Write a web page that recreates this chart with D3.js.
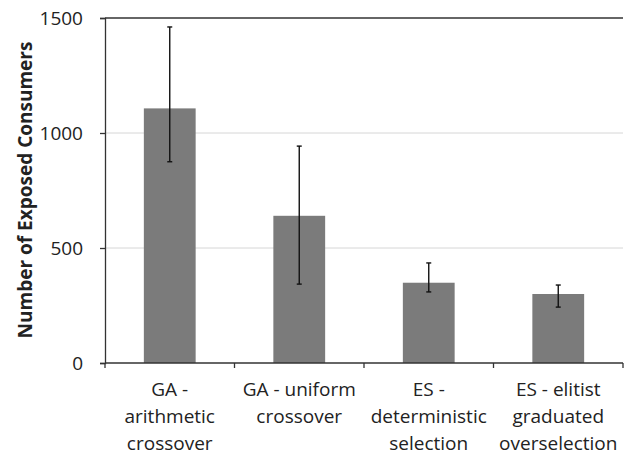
<!DOCTYPE html>
<html><head><meta charset="utf-8">
<script src="https://cdn.jsdelivr.net/npm/d3@7"></script>
<style>body{margin:0;background:#fff}svg{display:block}</style>
</head><body>
<svg id="c" width="624" height="456"></svg>
<script>
const categories = [
  ["GA -", "arithmetic", "crossover"],
  ["GA - uniform", "crossover"],
  ["ES -", "deterministic", "selection"],
  ["ES - elitist", "graduated", "overselection"]
];
const means = [1107, 640, 349, 300];
const errLow = [875, 343, 309, 243];
const errHigh = [1461, 943, 435, 339];
const yTicks = [0, 500, 1000, 1500];
const yTitle = "Number of Exposed Consumers";

(function () {
const svg = d3.select("#c");
const mLeft = 105, mRight = 623, mTop = 18, mBottom = 363;
const font = "'Open Sans', sans-serif";

const x = d3.scaleBand().domain(d3.range(categories.length)).range([mLeft, mRight]).paddingInner(0.6).paddingOuter(0.3);
const y = d3.scaleLinear().domain([0, 1500]).range([mBottom, mTop]);

// gridlines
svg.append("g").selectAll("line").data(yTicks.filter(t => t > 0 && t < 1500)).join("line")
  .attr("x1", mLeft).attr("x2", mRight).attr("y1", d => y(d)).attr("y2", d => y(d))
  .attr("stroke", "#d6d6d6").attr("stroke-width", 1);
svg.append("line").attr("x1", mLeft).attr("x2", mRight).attr("y1", y(1500)).attr("y2", y(1500))
  .attr("stroke", "#333").attr("stroke-width", 1.3);

// bars
svg.append("g").selectAll("rect").data(means).join("rect")
  .attr("x", (d, i) => x(i)).attr("width", x.bandwidth())
  .attr("y", d => y(d)).attr("height", d => y(0) - y(d))
  .attr("fill", "#7b7b7b");

// error bars
const eb = svg.append("g").attr("stroke", "#111").attr("stroke-width", 1.4);
means.forEach((m, i) => {
  const cx = x(i) + x.bandwidth() / 2;
  eb.append("line").attr("x1", cx).attr("x2", cx).attr("y1", y(errLow[i])).attr("y2", y(errHigh[i]));
  [errLow[i], errHigh[i]].forEach(v => {
    eb.append("line").attr("x1", cx - 2.5).attr("x2", cx + 2.5).attr("y1", y(v)).attr("y2", y(v));
  });
});

// y axis
const ya = svg.append("g").attr("transform", `translate(${mLeft},0)`)
  .call(d3.axisLeft(y).tickValues(yTicks).tickSize(5).tickPadding(17).tickFormat(d3.format("d")));
ya.select(".domain").attr("stroke", "#333").attr("stroke-width", 1.3);
ya.selectAll(".tick line").attr("stroke", "#333").attr("stroke-width", 1.3);
ya.selectAll("text").attr("font-family", font).attr("font-size", 19).attr("fill", "#222");

// x axis
const boundaries = d3.range(categories.length + 1).map(i => mLeft + i * x.step());
svg.append("line").attr("x1", mLeft).attr("x2", mRight).attr("y1", mBottom).attr("y2", mBottom)
  .attr("stroke", "#333").attr("stroke-width", 1.3);
svg.append("g").selectAll("line").data(boundaries).join("line")
  .attr("x1", d => d).attr("x2", d => d).attr("y1", mBottom).attr("y2", mBottom + 5)
  .attr("stroke", "#333").attr("stroke-width", 1.3);

const lab = svg.append("g").attr("font-family", font).attr("font-size", 19).attr("fill", "#222").attr("text-anchor", "middle");
categories.forEach((lines, i) => {
  const cx = x(i) + x.bandwidth() / 2;
  lines.forEach((t, j) => {
    lab.append("text").attr("x", cx).attr("y", 396 + j * 27).text(t);
  });
});

svg.append("text").attr("transform", `translate(32,190) rotate(-90)`)
  .attr("text-anchor", "middle").attr("font-family", font).attr("font-weight", "bold")
  .attr("font-size", 19).attr("fill", "#222").text(yTitle);
})();
</script>
</body></html>
